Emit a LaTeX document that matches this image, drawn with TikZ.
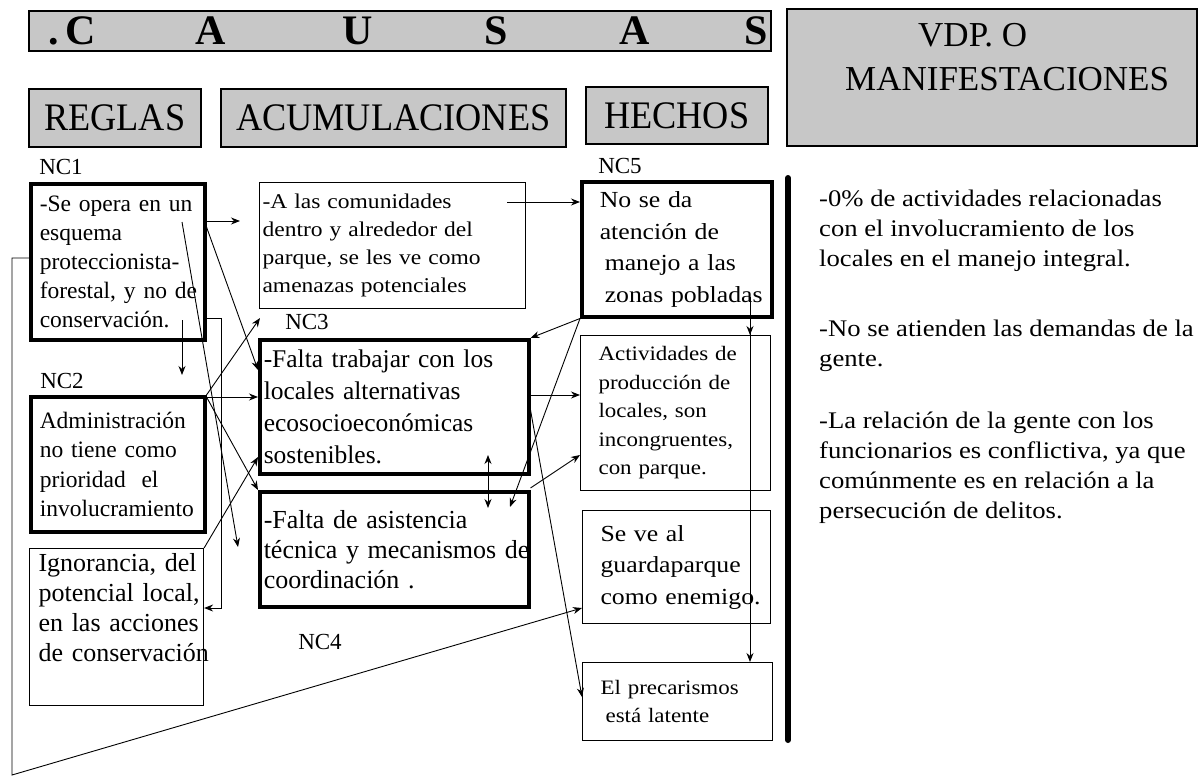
\documentclass[tikz,border=0pt]{standalone}
\usepackage{fontspec}
\setmainfont{Liberation Serif}
\newfontfamily\antiqua[FakeStretch=1.12]{Liberation Serif}
\usepackage{graphicx}
\usetikzlibrary{arrows.meta,positioning}
\definecolor{HeadGray}{gray}{0.78}
\newcommand{\setfs}[2]{\fontsize{#1}{#2}\selectfont}
\hyphenpenalty=10000
\exhyphenpenalty=10000

\begin{document}
\begin{tikzpicture}[x=1pt,y=-1pt,
    head/.style={draw,line width=1.6pt,fill=HeadGray,inner sep=0pt,anchor=north west},
    headtext/.style={font=\setfs{39}{39}},
    bold box/.style={draw,line width=3.5pt,anchor=north west,align=left,inner ysep=0pt},
    thin box/.style={draw,line width=1.1pt,anchor=north west,align=left,inner ysep=0pt},
    left col/.style={inner xsep=9pt,text width=156pt,minimum width=174pt},
    mid col/.style={inner xsep=4pt,text width=261pt},
    right col/.style={inner xsep=18pt},
    tag/.style={font=\setfs{23}{23},inner sep=0pt},
    plain/.style={inner sep=0pt},
    arrow/.style={-{Stealth[length=9pt,width=7pt]},line width=0.9pt},
    twoway/.style={{Stealth[length=9pt,width=7pt]}-{Stealth[length=9pt,width=7pt]},line width=0.9pt}
  ]
  \useasboundingbox (0,0) rectangle (1199,776);

  % cabecera
  \node[head,minimum width=742pt,minimum height=40pt] (causas) at (28,10) {};
  \node[plain,anchor=base,font=\setfs{42}{42}\bfseries] (dot) at (54,45) {.};
  \foreach \letra/\x [count=\i] in {C/81,A/211,U/358,S/496,A/635,S/756}
    \node[plain,anchor=base,font=\setfs{42}{42}\bfseries] (letra\i) at (\x,45) {\letra};
  \node[head,headtext,minimum width=172pt,minimum height=58pt] (reglas) at (28,88) {\scalebox{0.93}[1]{REGLAS}};
  \node[head,headtext,minimum width=345pt,minimum height=58pt] (acumh) at (220,88) {\scalebox{0.93}[1]{ACUMULACIONES}};
  \node[head,headtext,minimum width=182pt,minimum height=57pt] (hechos) at (585,86) {\scalebox{0.93}[1]{HECHOS}};
  \node[head,minimum width=410pt,minimum height=137pt] (vdp) at (786,8) {};
  \node[plain,anchor=base west,font=\setfs{35}{35}] (vdpa) at (918,47) {VDP. O};
  \node[plain,anchor=base west,font=\setfs{35}{35}] (vdpb) at (845,90) {MANIFESTACIONES};

  % etiquetas
  \node[tag] (nc1lbl) at (61,167) {NC1};
  \node[tag] (nc2lbl) at (62,381) {NC2};
  \node[tag] (nc3lbl) at (307,322) {NC3};
  \node[tag] (nc4lbl) at (320,642) {NC4};
  \node[tag] (nc5lbl) at (620,166) {NC5};

  % reglas
  \node[bold box,left col,minimum height=156pt,font=\setfs{23.5}{29}] (nc1) at (29,182)
    {-Se~opera~en~un\\esquema\\proteccionista-\\forestal,~y~no~de\\conservación.};
  \node[bold box,left col,minimum height=135pt,font=\setfs{23.5}{29.5}] (nc2) at (29,395)
    {Administración\\no~tiene~como\\prioridad~~el\\involucramiento};
  \node[thin box,left col,minimum height=157pt,font=\setfs{26}{30}] (ign) at (29,548)
    {Ignorancia,~del\\potencial~local,\\en~las~acciones\\de~conservación\\\strut};

  % acumulaciones
  \node[thin box,mid col,minimum width=266pt,minimum height=126pt,inner xsep=3pt,text width=260pt,font=\antiqua\setfs{21}{28}] (acum) at (259,182)
    {-A~las~comunidades\\dentro~y~alrededor~del\\parque,~se~les~ve~como\\amenazas~potenciales};
  \node[bold box,mid col,minimum width=269pt,minimum height=134pt,font=\setfs{25.5}{32}] (nc3) at (258,338)
    {-Falta~trabajar~con~los\\locales~alternativas\\ecosocioeconómicas\\sostenibles.};
  \node[bold box,mid col,minimum width=269pt,minimum height=115pt,font=\setfs{26}{30}] (nc4) at (258,490)
    {-Falta~de~asistencia\\técnica~y~mecanismos~de\\coordinación~.};

  % hechos
  \node[bold box,right col,text width=154pt,minimum width=190pt,minimum height=135pt,font=\antiqua\setfs{23}{31.5}] (nc5) at (580,180)
    {No~se~da\\atención~de\\\hspace*{5pt}manejo~a~las\\\hspace*{5pt}zonas~pobladas};
  \node[thin box,right col,text width=154pt,minimum width=190pt,minimum height=155pt,font=\antiqua\setfs{20.5}{28.5}] (act) at (580,335)
    {Actividades~de\\producción~de\\locales,~son\\incongruentes,\\con~parque.};
  \node[thin box,right col,text width=152pt,minimum width=188pt,minimum height=113pt,font=\antiqua\setfs{23}{31.5}] (sev) at (582,510)
    {Se~ve~al\\guardaparque\\como~enemigo.};
  \node[thin box,right col,text width=154pt,minimum width=190pt,minimum height=78pt,font=\antiqua\setfs{20.5}{28}] (prec) at (582,662)
    {El~precarismos\\\hspace*{5pt}está~latente};

  % manifestaciones
  \draw[line width=6pt,line cap=round] (788,178) -- (788,740);
  \node[plain,anchor=north west,align=left,font=\antiqua\setfs{23.8}{30}] (vdptext) at (819,190)
    {-0\% de actividades relacionadas\\con el involucramiento de los\\locales en el manejo integral.\\[40pt]
     -No se atienden las demandas de la\\gente.\\[32pt]
     -La relación de la gente con los\\funcionarios es conflictiva, ya que\\comúnmente es en relación a la\\persecución de delitos.};

  % puntos libres
  \coordinate (p1) at (240,221);
  \coordinate (p2) at (182,222);
  \coordinate (p3) at (238,547);
  \coordinate (p4) at (182,320);
  \coordinate (p5) at (182,375);
  \coordinate (p7) at (260,318);
  \coordinate (p8) at (507,202);
  \coordinate (p9) at (510,507);
  \coordinate (p10) at (750,297);
  \coordinate (p11) at (488,455);
  \coordinate (p12) at (488,508);
  \coordinate (p13) at (12,775);

  % conectores
  \draw[arrow] (nc1.east |- p1) -- (p1);
  \draw[arrow] (p2) -- (p3);
  \draw[arrow] ([yshift=-45pt]nc1.north east) -- ([yshift=-32pt]nc3.north west);
  \draw[arrow] (p4) -- (p5);
  \draw[arrow] ([yshift=-136pt]nc1.north east) -| ([xshift=17pt,yshift=-60pt]ign.north east) -- ([yshift=-60pt]ign.north east);
  \draw[arrow] (nc2.north east) -- (p7);
  \draw[arrow] ([yshift=-2pt]nc2.north east) -- ([yshift=-59pt]nc3.north west);
  \draw[arrow] ([yshift=-2pt]nc2.north east) -- (nc4.north west);
  \draw[arrow] (ign.north east) -- ([yshift=-119pt]nc3.north west);
  \draw[arrow] (p8) -- ([yshift=-22pt]nc5.north west);
  \draw[arrow] (nc5.south west) -- (nc3.north east);
  \draw[arrow] (nc5.south west) -- (p9);
  \draw[arrow] ([yshift=-57pt]nc3.north east) -- ([yshift=-60pt]act.north west);
  \draw[arrow] ([yshift=2pt]nc4.north east) -- ([yshift=-120pt]act.north west);
  \draw[arrow] ([yshift=-72pt]nc3.north east) -- ([yshift=-35pt]prec.north west);
  \draw[arrow] (p10) -- (act.north -| p10);
  \draw[arrow] (p10) -- (prec.north -| p10);
  \draw[twoway] (p11) -- (p12);
  \draw[arrow] ([yshift=-76pt]nc1.north west) -| (p13) -- ([yshift=-98pt]sev.north west);
\end{tikzpicture}
\end{document}
